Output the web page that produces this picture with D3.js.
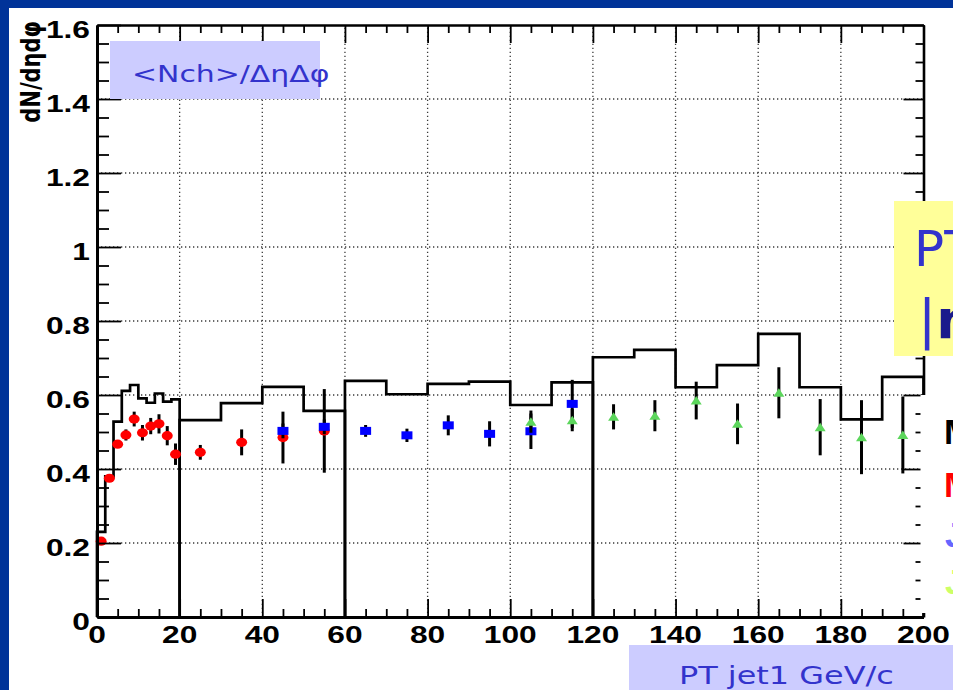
<!DOCTYPE html>
<html><head><meta charset="utf-8">
<script src="https://cdn.jsdelivr.net/npm/d3@7"></script>
<style>html,body{margin:0;padding:0;background:#003399;overflow:hidden}</style>
</head><body>
<svg id="chart" width="953" height="690"></svg>
<script>
// Monte Carlo reference histogram, drawn as four separate step pieces
const mcEdgesA = [0, 2, 4, 6, 8, 10, 12, 14, 16, 18, 20];
const mcValuesA = [0.23, 0.38, 0.528, 0.611, 0.627, 0.591, 0.579, 0.604, 0.582, 0.588];
const mcEdgesB = [20, 30, 40, 50, 60];
const mcValuesB = [0.532, 0.578, 0.622, 0.557];
const mcEdgesC = [60, 70, 80, 90, 100, 110, 120];
const mcValuesC = [0.638, 0.602, 0.630, 0.636, 0.573, 0.634];
const mcEdgesD = [120, 130, 140, 150, 160, 170, 180, 190, 200];
const mcValuesD = [0.702, 0.722, 0.621, 0.681, 0.765, 0.621, 0.534, 0.649];

// Min-bias sample (red)
const mbPt  = [1, 3, 5, 7, 9, 11, 13, 15, 17, 19, 25, 35, 45, 55];
const mbVal = [0.205, 0.375, 0.467, 0.492, 0.535, 0.498, 0.516, 0.522, 0.490, 0.440, 0.445, 0.472, 0.485, 0.503];
const mbErr = [0.004, 0.006, 0.010, 0.015, 0.020, 0.021, 0.022, 0.026, 0.026, 0.029, 0.020, 0.035, 0.070, 0.113];

// JET20 sample (blue)
const j20Pt  = [45, 55, 65, 75, 85, 95, 105, 115];
const j20Val = [0.503, 0.514, 0.503, 0.491, 0.518, 0.495, 0.502, 0.576];
const j20Err = [0.020, 0.020, 0.016, 0.018, 0.027, 0.034, 0.048, 0.065];

// JET100 sample (green)
const j100Pt  = [105, 115, 125, 135, 145, 155, 165, 175, 185, 195];
const j100Val = [0.528, 0.532, 0.541, 0.544, 0.585, 0.522, 0.606, 0.513, 0.486, 0.492];
const j100Err = [0.030, 0.030, 0.034, 0.042, 0.051, 0.055, 0.069, 0.076, 0.100, 0.104];

// Axis ticks
const xMajor = [0, 20, 40, 60, 80, 100, 120, 140, 160, 180, 200];
const xTickLabels = ["0", "20", "40", "60", "80", "100", "120", "140", "160", "180", "200"];
const yMajor = [0, 0.2, 0.4, 0.6, 0.8, 1.0, 1.2, 1.4, 1.6];
const yTickLabels = ["0", "0.2", "0.4", "0.6", "0.8", "1", "1.2", "1.4", "1.6"];

const svg = d3.select("#chart");
const W = 953, H = 690;
const x = d3.scaleLinear().domain([0, 200]).range([97, 923.5]);
const y = d3.scaleLinear().domain([0, 1.6]).range([617, 25]);
const xMinor = d3.range(0, 201, 5).filter(v => v % 20 !== 0);
const yMinor = d3.range(0, 33).map(i => i * 0.05).filter((v, i) => i % 4 !== 0);

// slide panel
svg.append("rect").attr("x", 9).attr("y", 8).attr("width", W - 9).attr("height", H - 8).attr("fill", "#fff");

// dotted grid
const grid = svg.append("g").attr("stroke", "#3a3a3a").attr("stroke-width", 1.3).attr("stroke-dasharray", "1.3,2.7");
grid.selectAll("line.gv").data(xMajor.slice(1, -1)).join("line").attr("class", "gv")
  .attr("x1", d => x(d)).attr("x2", d => x(d)).attr("y1", y(0)).attr("y2", y(1.6));
grid.selectAll("line.gh").data(yMajor.slice(1, -1)).join("line").attr("class", "gh")
  .attr("x1", x(0)).attr("x2", x(200)).attr("y1", d => y(d)).attr("y2", d => y(d));

// histogram pieces
const step = d3.line().x(d => x(d[0])).y(d => y(d[1])).curve(d3.curveStepAfter);
function histPoints(edges, values) {
  const pts = [[edges[0], 0]];
  values.forEach((v, i) => pts.push([edges[i], v]));
  pts.push([edges[edges.length - 1], values[values.length - 1]]);
  pts.push([edges[edges.length - 1], 0]);
  return pts;
}
[[mcEdgesA, mcValuesA], [mcEdgesB, mcValuesB], [mcEdgesC, mcValuesC], [mcEdgesD, mcValuesD]].forEach(([e, v]) => {
  svg.append("path").attr("d", step(histPoints(e, v))).attr("fill", "none")
    .attr("stroke", "#000").attr("stroke-width", 2.7).attr("stroke-linejoin", "miter");
});

// data series: error bars then markers
function drawSeries(pts, vals, errs, shape, color) {
  const g = svg.append("g");
  g.selectAll("line").data(pts).join("line")
    .attr("x1", d => x(d)).attr("x2", d => x(d))
    .attr("y1", (d, i) => y(vals[i] - errs[i])).attr("y2", (d, i) => y(vals[i] + errs[i]))
    .attr("stroke", "#000").attr("stroke-width", 3);
  if (shape === "circle") {
    g.selectAll("ellipse").data(pts).join("ellipse")
      .attr("cx", d => x(d)).attr("cy", (d, i) => y(vals[i])).attr("rx", 5.5).attr("ry", 4.6).attr("fill", color);
  } else if (shape === "square") {
    g.selectAll("rect").data(pts).join("rect")
      .attr("x", d => x(d) - 5.5).attr("y", (d, i) => y(vals[i]) - 4).attr("width", 11).attr("height", 8).attr("fill", color);
  } else {
    g.selectAll("path").data(pts).join("path")
      .attr("d", (d, i) => { const cx = x(d), cy = y(vals[i]); return `M${cx - 5.5},${cy + 4}L${cx + 5.5},${cy + 4}L${cx},${cy - 4.5}Z`; })
      .attr("fill", color);
  }
}
drawSeries(mbPt, mbVal, mbErr, "circle", "#ff0000");
drawSeries(j20Pt, j20Val, j20Err, "square", "#0000ff");
drawSeries(j100Pt, j100Val, j100Err, "triangle", "#5cd65c");

// frame axes with inward ticks
function styleAxis(g, w) {
  g.selectAll(".domain").attr("stroke", "#000").attr("stroke-width", w);
  g.selectAll(".tick line").attr("stroke", "#000").attr("stroke-width", 1.8);
  g.selectAll("text").remove();
}
const bMin = svg.append("g").attr("transform", `translate(0,${y(0)})`).call(d3.axisBottom(x).tickValues(xMinor).tickSize(-8).tickSizeOuter(0));
styleAxis(bMin, 0);
const bMaj = svg.append("g").attr("transform", `translate(0,${y(0)})`).call(d3.axisBottom(x).tickValues(xMajor).tickSize(-18).tickSizeOuter(0));
styleAxis(bMaj, 3);
const tMin = svg.append("g").attr("transform", `translate(0,${y(1.6)})`).call(d3.axisTop(x).tickValues(xMinor).tickSize(-8).tickSizeOuter(0));
styleAxis(tMin, 0);
const tMaj = svg.append("g").attr("transform", `translate(0,${y(1.6)})`).call(d3.axisTop(x).tickValues(xMajor).tickSize(-18).tickSizeOuter(0));
styleAxis(tMaj, 2.6);
const lMin = svg.append("g").attr("transform", `translate(${x(0)},0)`).call(d3.axisLeft(y).tickValues(yMinor).tickSize(-12).tickSizeOuter(0));
styleAxis(lMin, 0);
const lMaj = svg.append("g").attr("transform", `translate(${x(0)},0)`).call(d3.axisLeft(y).tickValues(yMajor).tickSize(-24).tickSizeOuter(0));
styleAxis(lMaj, 3);
const rMin = svg.append("g").attr("transform", `translate(${x(200)},0)`).call(d3.axisRight(y).tickValues(yMinor).tickSize(-8).tickSizeOuter(0));
styleAxis(rMin, 0);
const rMaj = svg.append("g").attr("transform", `translate(${x(200)},0)`).call(d3.axisRight(y).tickValues(yMajor).tickSize(-20).tickSizeOuter(0));
styleAxis(rMaj, 2.6);

// tick labels
const lblFont = "'Liberation Sans', Arial, sans-serif";
svg.append("g").selectAll("text").data(xMajor).join("text")
  .attr("transform", d => `translate(${x(d)},643) scale(1.35,1)`)
  .attr("text-anchor", "middle").attr("font-family", lblFont).attr("font-weight", "bold").attr("font-size", 23.5)
  .text((d, i) => xTickLabels[i]);
svg.append("g").selectAll("text").data(yMajor).join("text")
  .attr("transform", d => `translate(90,${y(d) + 12.5}) scale(1.35,1)`)
  .attr("text-anchor", "end").attr("font-family", lblFont).attr("font-weight", "bold").attr("font-size", 23.5)
  .text((d, i) => yTickLabels[i]);

// y axis title
svg.append("text").attr("transform", "translate(40,21) rotate(-90) scale(1,1.3)").attr("text-anchor", "end")
  .attr("font-family", "'DejaVu Sans', sans-serif").attr("font-weight", "bold").attr("font-size", 21)
  .text("dN/dηdφ");

// overlaid slide labels
const boxFont = "'DejaVu Sans', Verdana, sans-serif";
svg.append("rect").attr("x", 110).attr("y", 41).attr("width", 210).attr("height", 58).attr("fill", "#ccccff");
svg.append("text").attr("transform", "translate(132,82) scale(1.3,1)").attr("font-family", boxFont).attr("font-size", 23)
  .attr("fill", "#3333cc").text("<Nch>/ΔηΔφ");

svg.append("rect").attr("x", 629).attr("y", 645).attr("width", W - 629).attr("height", H - 645).attr("fill", "#ccccff");
svg.append("text").attr("transform", "translate(679,684) scale(1.33,1)").attr("font-family", boxFont).attr("font-size", 24)
  .attr("fill", "#3333cc").text("PT jet1 GeV/c");

svg.append("rect").attr("x", 894).attr("y", 201).attr("width", W - 894).attr("height", 155).attr("fill", "#ffff99");
svg.append("text").attr("x", 914).attr("y", 266).attr("font-family", boxFont).attr("font-size", 50)
  .attr("fill", "#3333cc").text("PT > 0.5 GeV/c");
const etaLine = svg.append("text").attr("x", 918).attr("y", 338).attr("font-family", boxFont).attr("font-size", 54);
etaLine.append("tspan").attr("fill", "#3333cc").text("|");
etaLine.append("tspan").attr("fill", "#1a1a8c").attr("font-weight", "bold").text("η| < 1");

// legend (partly beyond the page edge)
svg.append("rect").attr("x", 920.5).attr("y", 395).attr("width", W - 920.5).attr("height", 218).attr("fill", "#fff");
const legendNames = ["MC Pythia", "Min-Bias", "JET20", "JET100"];
const legendColors = ["#000000", "#ff0000", "#6666ff", "#ccff66"];
const legendX = [944, 944, 945, 945];
const legendY = [444, 497, 547, 594];
svg.append("g").selectAll("text").data(legendNames).join("text")
  .attr("x", (d, i) => legendX[i]).attr("y", (d, i) => legendY[i])
  .attr("font-family", lblFont).attr("font-weight", "bold").attr("font-size", 35)
  .attr("fill", (d, i) => legendColors[i]).text(d => d);
</script>
</body></html>
